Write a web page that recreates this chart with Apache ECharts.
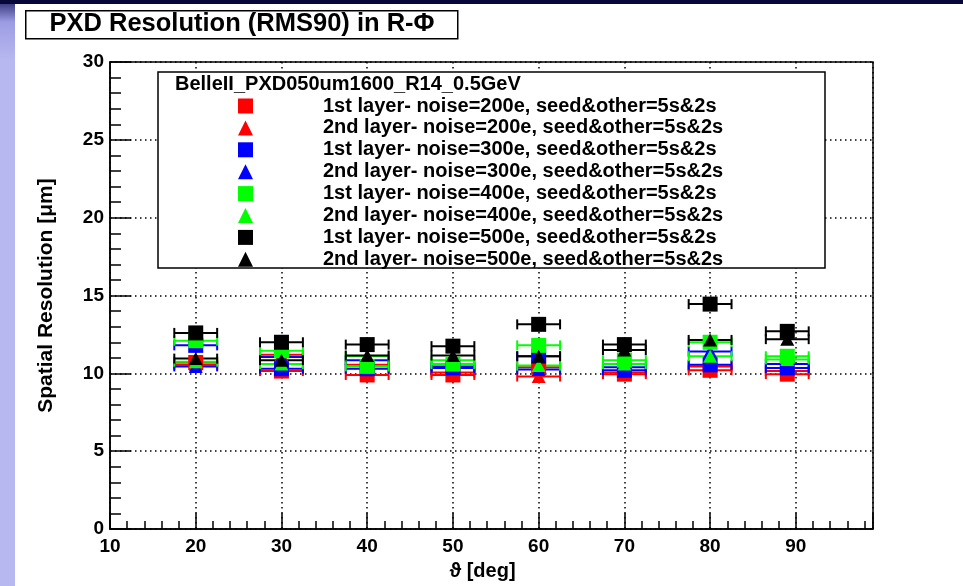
<!DOCTYPE html>
<html>
<head>
<meta charset="utf-8">
<script src="https://cdn.jsdelivr.net/npm/echarts@6/dist/echarts.min.js"></script>
<style>
  html, body { margin: 0; padding: 0; background: #fff; }
  #strip { position: absolute; left: 0; top: 0; width: 15px; height: 586px;
    background: linear-gradient(#2a2a70 0px, #9c9ce4 22px, #b8b8f0 60px, #b8b8f0 100%); }
  #topbar { position: absolute; left: 0; top: 0; width: 963px; height: 4px; background: #07073a; }
  #main { position: absolute; left: 0; top: 0; width: 963px; height: 586px; }
</style>
</head>
<body>
<div id="strip"></div>
<div id="topbar"></div>
<div id="main"></div>
<script>
// polar angle of the track, deg, and half width of the bin
const theta = [20, 30, 40, 50, 60, 70, 80, 89];
const thetaErr = [2.5, 2.5, 2.5, 2.5, 2.5, 2.5, 2.5, 2.5];

// resolution in um
const l1n200 = [10.7, 10.15, 9.9, 9.9, 10.4, 9.95, 10.2, 9.95];
const l2n200 = [10.55, 11.2, 10.55, 10.05, 9.8, 10.05, 10.45, 10.15];
const l1n300 = [11.8, 10.3, 10.3, 10.35, 11.1, 10.2, 10.55, 10.35];
const l2n300 = [10.45, 11.05, 10.85, 10.45, 10.25, 10.4, 11.4, 10.6];
const l1n400 = [12.1, 11.45, 10.45, 10.6, 11.8, 10.85, 12.0, 11.1];
const l2n400 = [10.75, 10.6, 11.1, 10.85, 10.5, 10.6, 11.1, 10.9];
const l1n500 = [12.6, 12.0, 11.85, 11.75, 13.15, 11.85, 14.45, 12.7];
const l2n500 = [10.95, 10.85, 11.15, 11.15, 11.1, 11.5, 12.15, 12.2];

const names = [
  '1st layer- noise=200e, seed&other=5s&2s',
  '2nd layer- noise=200e, seed&other=5s&2s',
  '1st layer- noise=300e, seed&other=5s&2s',
  '2nd layer- noise=300e, seed&other=5s&2s',
  '1st layer- noise=400e, seed&other=5s&2s',
  '2nd layer- noise=400e, seed&other=5s&2s',
  '1st layer- noise=500e, seed&other=5s&2s',
  '2nd layer- noise=500e, seed&other=5s&2s'
];
const values = [l1n200, l2n200, l1n300, l2n300, l1n400, l2n400, l1n500, l2n500];
const colors = ['#ff0000', '#ff0000', '#0000ff', '#0000ff', '#00ff00', '#00ff00', '#000000', '#000000'];
const symbols = ['rect', 'triangle', 'rect', 'triangle', 'rect', 'triangle', 'rect', 'triangle'];

const FONT = '"Liberation Sans", Arial, sans-serif';

// horizontal error bar with end caps
function errBar(params, api) {
  const x = api.value(0), y = api.value(1), e = api.value(2);
  const a = api.coord([x - e, y]);
  const b = api.coord([x + e, y]);
  const st = { stroke: api.visual('color'), lineWidth: 2 };
  const h = 5;
  return {
    type: 'group',
    children: [
      { type: 'line', shape: { x1: a[0], y1: a[1], x2: b[0], y2: b[1] }, style: st },
      { type: 'line', shape: { x1: a[0], y1: a[1] - h, x2: a[0], y2: a[1] + h }, style: st },
      { type: 'line', shape: { x1: b[0], y1: b[1] - h, x2: b[0], y2: b[1] + h }, style: st }
    ]
  };
}

const series = [];
values.forEach((v, i) => {
  series.push({
    name: 'err' + i,
    type: 'custom',
    renderItem: errBar,
    itemStyle: { color: colors[i] },
    encode: { x: 0, y: 1 },
    data: theta.map((t, k) => [t, v[k], thetaErr[k]]),
    silent: true
  });
  series.push({
    name: names[i],
    type: 'scatter',
    symbol: symbols[i],
    symbolSize: symbols[i] === 'rect' ? 15 : [14, 13],
    itemStyle: { color: colors[i], opacity: 1 },
    data: theta.map((t, k) => [t, v[k]])
  });
});

const axisLineStyle = { color: '#000', width: 1.5 };
const gridDots = { color: '#000', width: 1.5, type: [1.5, 3.5] };

const chart = echarts.init(document.getElementById('main'));
chart.setOption({
  animation: false,
  backgroundColor: 'transparent',
  grid: { left: 110, top: 62, width: 763, height: 469, show: true, borderColor: '#000', borderWidth: 1.5 },
  xAxis: {
    type: 'value', min: 10, max: 99, interval: 10,
    name: 'ϑ [deg]', nameLocation: 'middle', nameGap: 30,
    nameTextStyle: { fontFamily: FONT, fontSize: 20, fontWeight: 'bold', color: '#000', padding: [0, 18, 0, 0] },
    axisLine: { lineStyle: axisLineStyle },
    axisTick: { inside: true, length: 16, lineStyle: axisLineStyle },
    minorTick: { show: true, splitNumber: 5, length: 8, lineStyle: axisLineStyle },
    axisLabel: { showMaxLabel: false, fontFamily: FONT, fontSize: 19, fontWeight: 'bold', color: '#000', margin: 8 },
    splitLine: { show: true, lineStyle: gridDots }
  },
  yAxis: {
    type: 'value', min: 0, max: 30, interval: 5,
    name: 'Spatial Resolution [μm]', nameLocation: 'middle', nameGap: 53,
    nameTextStyle: { fontFamily: FONT, fontSize: 21, fontWeight: 'bold', color: '#000' },
    axisLine: { lineStyle: axisLineStyle },
    axisTick: { inside: true, length: 21, lineStyle: axisLineStyle },
    minorTick: { show: true, splitNumber: 5, length: 11, lineStyle: axisLineStyle },
    axisLabel: { fontFamily: FONT, fontSize: 19, fontWeight: 'bold', color: '#000', margin: 6 },
    splitLine: { show: true, lineStyle: gridDots }
  },
  legend: {
    orient: 'vertical', left: 233, top: 91, z: 5,
    itemWidth: 15, itemHeight: 15, itemGap: 1.9,
    selectedMode: false,
    textStyle: { fontFamily: FONT, fontSize: 20, fontWeight: 'bold', color: '#000', lineHeight: 20, padding: [0, 0, 0, 65] },
    data: names
  },
  graphic: [
    { type: 'rect', left: 25, top: 10, z: 3, shape: { width: 432, height: 28 },
      style: { fill: '#fff', stroke: '#000', lineWidth: 1.5 } },
    { type: 'text', x: 242, y: 24, z: 4,
      style: { text: 'PXD Resolution (RMS90) in R-Φ', fill: '#000', align: 'center', verticalAlign: 'middle',
        font: 'bold 25.5px "Liberation Sans", Arial, sans-serif' } },
    { type: 'rect', x: 158, y: 72, z: 3, shape: { width: 667, height: 196 },
      style: { fill: '#fff', stroke: '#000', lineWidth: 1.5 } },
    { type: 'text', x: 175, y: 84, z: 4,
      style: { text: 'BelleII_PXD050um1600_R14_0.5GeV', fill: '#000', verticalAlign: 'middle',
        font: 'bold 20px "Liberation Sans", Arial, sans-serif' } }
  ],
  series: series
});
</script>
</body>
</html>
